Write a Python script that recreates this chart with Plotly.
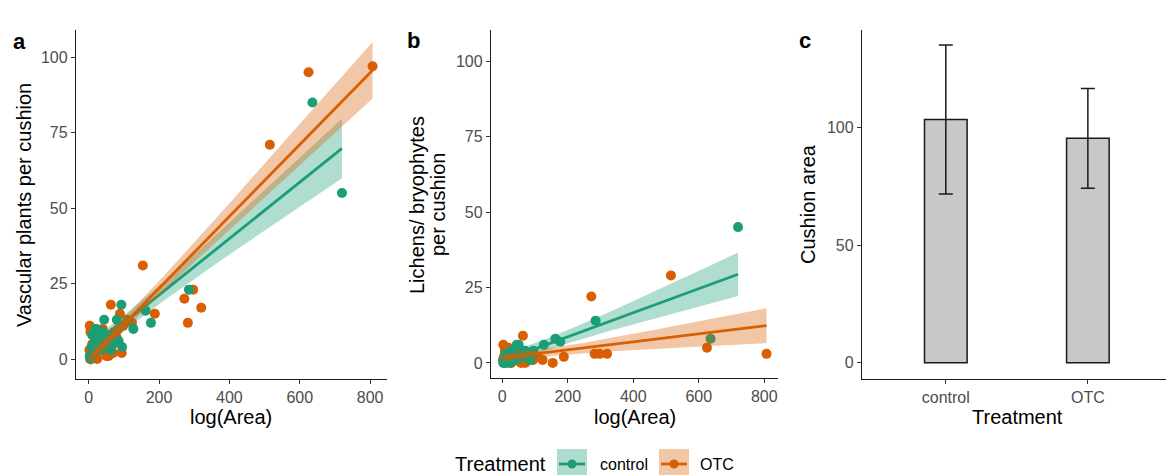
import numpy as np
import plotly.graph_objects as go

# ---- data -------------------------------------------------------------
# log(Area) of each cushion, shared by panels a and b
area_control = [720, 636, 285, 162, 177, 127, 93, 80, 44, 95, 63, 19, 33, 57,
                23, 85, 5, 8, 12, 28, 15, 40, 50, 3, 70, 22, 35, 10]
area_otc = [807, 625, 515, 154, 272, 297, 320, 282, 188, 63, 89, 3, 19, 57,
            24, 94, 123, 5, 10, 30, 45, 70, 15, 40, 2, 35, 60, 80, 50, 8,
            6, 12, 18, 22, 27, 33, 38, 42, 48, 53, 58, 66, 72, 77, 84, 98,
            4, 14, 28, 110]

# vascular plants per cushion
vasc_control = [55, 85, 23, 16, 12, 10, 18, 13, 13, 4, 3, 10, 9, 8,
                6, 6, 0, 4, 2, 7, 5, 9, 6, 1, 5, 10, 3, 8]
vasc_otc = [97, 95, 71, 31, 20, 23, 17, 12, 15, 18, 15, 11, 8, 1,
            0, 2, 12, 9, 5, 4, 3, 2, 2, 10, 3, 6, 6, 7, 1, 0,
            1, 2, 3, 2, 4, 3, 5, 4, 6, 5, 7, 8, 9, 8, 10, 11,
            0, 1, 3, 13]

# lichens / bryophytes per cushion
lich_control = [45, 8, 14, 8, 7, 6, 3, 2, 6, 4, 2, 1, 3, 2,
                0, 1, 1, 0, 2, 4, 3, 1, 6, 0, 4, 2, 1, 3]
lich_otc = [3, 5, 29, 0, 22, 3, 3, 3, 2, 9, 2, 6, 5, 0,
            1, 1, 1, 2, 0, 1, 2, 0, 1, 3, 1, 2, 1, 2, 3, 4,
            2, 1, 2, 3, 1, 2, 2, 1, 2, 3, 1, 2, 3, 2, 1, 2,
            1, 3, 0, 2]

# panel c: mean cushion area with standard error
treatments = ["control", "OTC"]
area_mean = [103.5, 95.5]
area_se = [31.7, 21.2]

GREEN = "#1B9E77"
ORANGE = "#D95F02"
GREEN_FILL = "rgba(27,158,119,0.35)"
ORANGE_FILL = "rgba(217,95,2,0.35)"
W, H = 1166, 475
FONT = "Liberation Sans, Arial, sans-serif"


def t975(df):
    z = 1.959964
    return z + (z**3 + z) / (4 * df) + (5 * z**5 + 16 * z**3 + 3 * z) / (96 * df**2)


def lm_band(x, y, n_grid=100):
    """Least-squares line with its 95% confidence band."""
    x = np.asarray(x, float)
    y = np.asarray(y, float)
    n = len(x)
    b1, b0 = np.polyfit(x, y, 1)
    xg = np.linspace(x.min(), x.max(), n_grid)
    yhat = b0 + b1 * xg
    resid = y - (b0 + b1 * x)
    s = np.sqrt(np.sum(resid ** 2) / (n - 2))
    sxx = np.sum((x - x.mean()) ** 2)
    se = s * np.sqrt(1.0 / n + (xg - x.mean()) ** 2 / sxx)
    t = t975(n - 2)
    return xg, yhat, yhat - t * se, yhat + t * se


def px_x(p):
    return p / W


def px_y(p):
    return (H - p) / H


fig = go.Figure()


def scatter_panel(xa, ya, yc, yo):
    # points first, then ribbons and fitted lines on top
    fig.add_trace(go.Scatter(x=area_otc, y=yo, mode="markers", xaxis=xa, yaxis=ya,
                             marker=dict(color=ORANGE, size=10), showlegend=False))
    fig.add_trace(go.Scatter(x=area_control, y=yc, mode="markers", xaxis=xa, yaxis=ya,
                             marker=dict(color=GREEN, size=10), showlegend=False))
    for xs, ys, col, fill in [(area_control, yc, GREEN, GREEN_FILL),
                              (area_otc, yo, ORANGE, ORANGE_FILL)]:
        xg, yhat, lo, hi = lm_band(xs, ys)
        fig.add_trace(go.Scatter(x=np.concatenate([xg, xg[::-1]]),
                                 y=np.concatenate([hi, lo[::-1]]),
                                 mode="lines", fill="toself", fillcolor=fill,
                                 line=dict(width=0), xaxis=xa, yaxis=ya,
                                 hoverinfo="skip", showlegend=False))
        fig.add_trace(go.Scatter(x=xg, y=yhat, mode="lines", xaxis=xa, yaxis=ya,
                                 line=dict(color=col, width=2.8), showlegend=False))


scatter_panel("x", "y", vasc_control, vasc_otc)
scatter_panel("x2", "y2", lich_control, lich_otc)

fig.add_trace(go.Bar(x=treatments, y=area_mean, xaxis="x3", yaxis="y3", width=0.3,
                     marker=dict(color="#C8C8C8", line=dict(color="#1a1a1a", width=1.5)),
                     error_y=dict(type="data", array=area_se, visible=True,
                                  color="#1a1a1a", thickness=1.5, width=7),
                     showlegend=False))

axis_style = dict(showline=True, linecolor="#1a1a1a", linewidth=1.3, ticks="outside",
                  ticklen=4, tickwidth=1.1, tickcolor="#333333", showgrid=False,
                  zeroline=False, tickfont=dict(size=16, color="#4D4D4D", family=FONT))

ydom = [px_y(379), px_y(30)]
fig.update_layout(
    width=W, height=H, margin=dict(l=0, r=0, t=0, b=0),
    paper_bgcolor="white", plot_bgcolor="white",
    font=dict(family=FONT),
    xaxis=dict(domain=[px_x(76), px_x(387)], anchor="y", range=[-36, 848],
               tickvals=[0, 200, 400, 600, 800], **axis_style),
    yaxis=dict(domain=ydom, anchor="x", range=[-6.6, 109],
               tickvals=[0, 25, 50, 75, 100], **axis_style),
    xaxis2=dict(domain=[px_x(491), px_x(778)], anchor="y2", range=[-34.5, 842],
                tickvals=[0, 200, 400, 600, 800], **axis_style),
    yaxis2=dict(domain=[px_y(378), px_y(30)], anchor="x2", range=[-5, 110.3],
                tickvals=[0, 25, 50, 75, 100], **axis_style),
    xaxis3=dict(domain=[px_x(862), 1.0], anchor="y3", range=[-0.59, 1.55],
                type="category", **axis_style),
    yaxis3=dict(domain=ydom, anchor="x3", range=[-6.9, 141.6],
                tickvals=[0, 50, 100], **axis_style),
)

ann = []


def text(x, y, s, size=20, angle=0, xanchor="center", color="black"):
    ann.append(dict(x=px_x(x), y=px_y(y), xref="paper", yref="paper", text=s,
                    showarrow=False, textangle=angle, xanchor=xanchor, yanchor="middle",
                    font=dict(size=size, color=color, family=FONT)))


# panel letters
text(19, 41, "<b>a</b>", size=22)
text(413, 40, "<b>b</b>", size=22)
text(805, 40, "<b>c</b>", size=22)

# axis titles
text(24, 205, "Vascular plants per cushion", angle=-90)
text(417, 205, "Lichens/ bryophytes", angle=-90)
text(438, 205, "per cushion", angle=-90)
text(808, 204, "Cushion area", angle=-90)
text(231, 417, "log(Area)")
text(635, 417, "log(Area)")
text(1017, 417, "Treatment")

# legend
text(453, 464, "Treatment", xanchor="left")
text(598, 464, "control", size=16, xanchor="left")
text(698, 464, "OTC", size=16, xanchor="left")

shapes = []
for x0, x1, col, fill in [(557, 587, GREEN, GREEN_FILL), (659, 689, ORANGE, ORANGE_FILL)]:
    shapes.append(dict(type="rect", xref="paper", yref="paper", x0=px_x(x0), x1=px_x(x1),
                       y0=px_y(449), y1=px_y(480), fillcolor=fill, line=dict(width=0)))
    shapes.append(dict(type="line", xref="paper", yref="paper", x0=px_x(x0 + 2), x1=px_x(x1 - 2),
                       y0=px_y(464), y1=px_y(464), line=dict(color=col, width=2.8)))
    cx = (x0 + x1) / 2
    shapes.append(dict(type="circle", xref="paper", yref="paper",
                       x0=px_x(cx - 4.5), x1=px_x(cx + 4.5), y0=px_y(468.5), y1=px_y(459.5),
                       fillcolor=col, line=dict(width=0)))

fig.update_layout(annotations=ann, shapes=shapes)
fig.write_html("out.html")
